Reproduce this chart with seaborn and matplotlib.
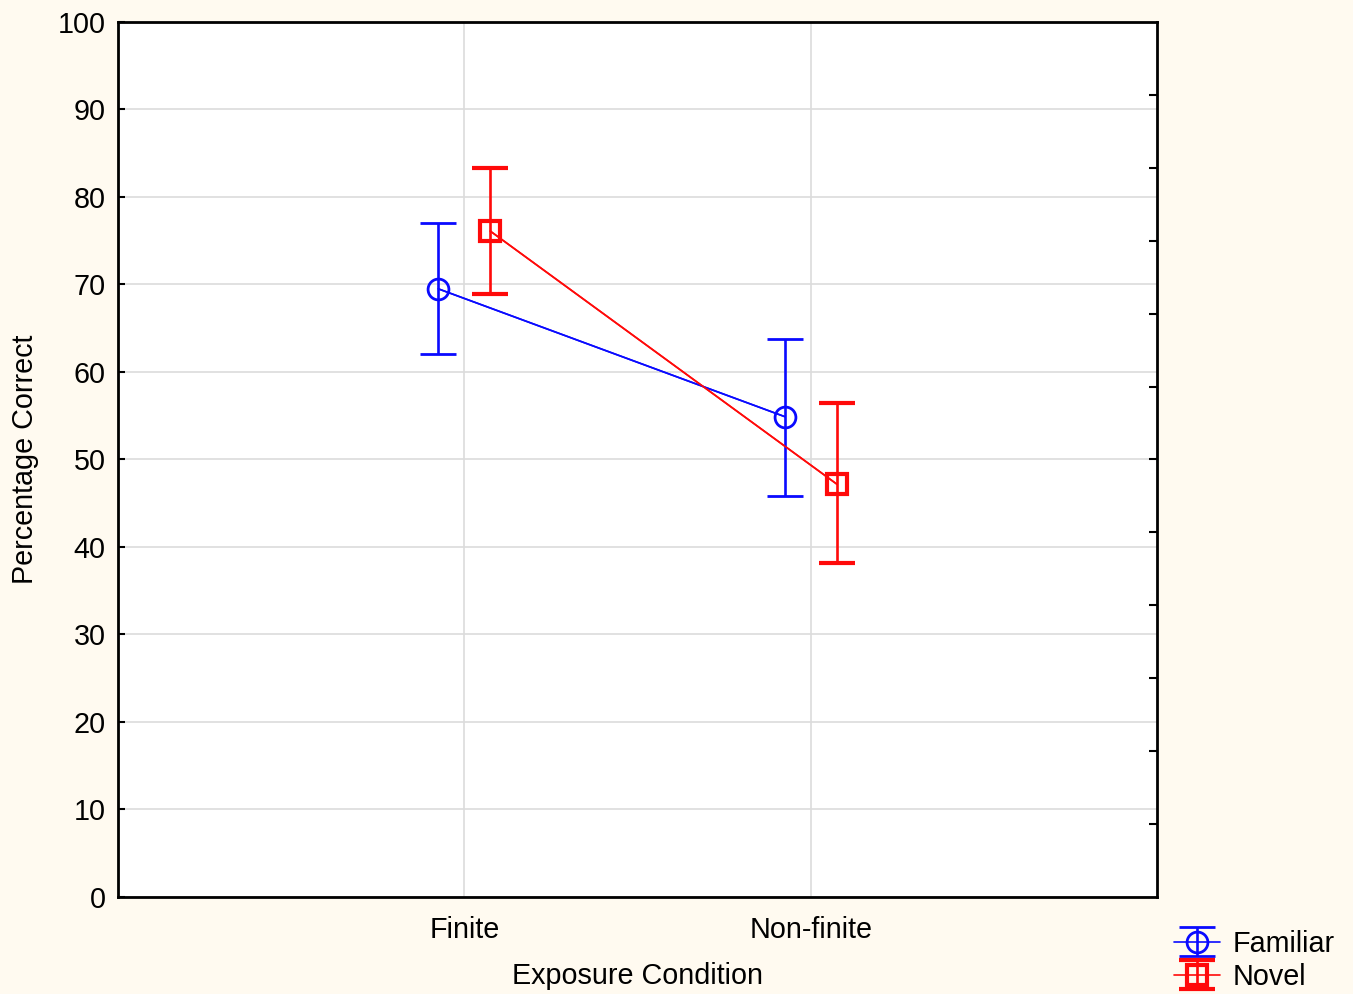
import numpy as np
import pandas as pd
import matplotlib
matplotlib.use("Agg")
import matplotlib.pyplot as plt
import seaborn as sns

# valores
conditions = ["Finite", "Non-finite"]
groups = ["Familiar", "Novel"]
familiar_mean = [69.5, 54.9]
familiar_low = [62.1, 45.8]
familiar_high = [77.0, 63.8]
novel_mean = [76.1, 47.2]
novel_low = [68.9, 38.2]
novel_high = [83.3, 56.5]

sns.set_style("white")
plt.rcParams['font.family'] = ['Liberation Sans', 'DejaVu Sans']
plt.rcParams['text.color'] = 'black'
plt.rcParams['axes.labelcolor'] = 'black'
plt.rcParams['xtick.color'] = 'black'
plt.rcParams['ytick.color'] = 'black'

bg = '#fffaf0'
fs = 20.7
fig = plt.figure(figsize=(13.53, 9.94), dpi=100, facecolor=bg)
ax = fig.add_axes([0.0872, 0.0976, 0.7679, 0.8803])
ax.set_facecolor('white')

rows = []
for g, m, lo, hi, off in [("Familiar", familiar_mean, familiar_low, familiar_high, -0.075),
                          ("Novel", novel_mean, novel_low, novel_high, 0.075)]:
    for i, c in enumerate(conditions):
        rows.append({"grupo": g, "cond": c, "x": i + 1 + off, "media": m[i],
                     "lo": lo[i], "hi": hi[i]})
df = pd.DataFrame(rows)

colores = {"Familiar": "#0a0aff", "Novel": "#ff0a0a"}
marcas = {"Familiar": "o", "Novel": "s"}

# lineas que unen las medias
sns.lineplot(data=df, x="x", y="media", hue="grupo", palette=colores,
             linewidth=1.2, legend=False, ax=ax, zorder=3)

handles = []
for g in groups:
    d = df[df["grupo"] == g]
    cont = ax.errorbar(d["x"], d["media"],
                       yerr=[d["media"] - d["lo"], d["hi"] - d["media"]],
                       fmt=marcas[g], color=colores[g], ecolor=colores[g],
                       elinewidth=1.9, capsize=13, capthick=1.9,
                       markersize=15,
                       markerfacecolor='none', markeredgecolor=colores[g],
                       markeredgewidth=2.0 if g == "Familiar" else 3.0,
                       linestyle='-', linewidth=1.2, zorder=4)
    handles.append(cont)

ax.set_xlim(0, 3)
ax.set_ylim(0, 100)
ax.set_xticks([1, 2])
ax.set_xticklabels(conditions)
ax.set_yticks(np.arange(0, 101, 10))
ax.grid(True, color='#dcdcdc', linewidth=1.2)
ax.set_axisbelow(True)

ax.tick_params(axis='both', direction='in', length=5, width=1.5, color='black',
               labelsize=fs, pad=9)
ax.tick_params(axis='x', pad=14)
for s in ax.spines.values():
    s.set_visible(True)
    s.set_color('black')
    s.set_linewidth(2)

ax.set_xlabel("Exposure Condition", fontsize=fs, labelpad=13)
ax.set_ylabel("Percentage Correct", fontsize=fs, labelpad=13)

# marcas del eje derecho (12 divisiones)
ax2 = ax.twinx()
ax2.set_ylim(0, 12)
ax2.set_yticks(np.arange(1, 12))
ax2.tick_params(axis='y', direction='in', length=6, width=1.5, labelright=False)
ax2.grid(False)
for s in ax2.spines.values():
    s.set_visible(False)

leg = fig.legend(handles, groups, loc='lower left', bbox_to_anchor=(0.855, -0.014),
                 frameon=False, fontsize=fs, handlelength=1.6, handletextpad=0.45,
                 labelspacing=0.17, borderaxespad=0.2)

fig.savefig("out.png", dpi=100, facecolor=bg)
print("Exito")
